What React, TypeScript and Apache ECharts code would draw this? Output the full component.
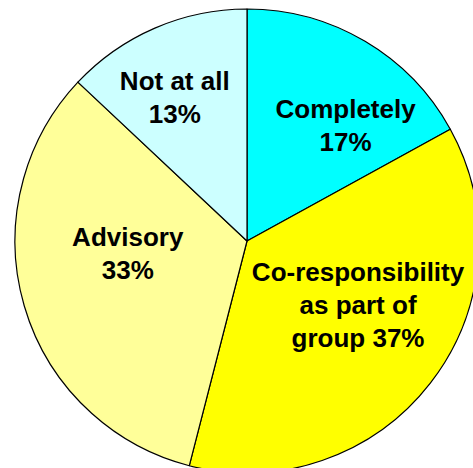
import React, { useEffect, useRef } from "react";
import * as echarts from "echarts";

const categories = ["Completely", "Co-responsibility\nas part of\ngroup", "Advisory", "Not at all"];
const values = [17, 37, 33, 13];
const colors = ["#00FFFF", "#FFFF00", "#FFFF99", "#CCFFFF"];
// label offsets relative to ECharts' default inside position
const labelOffsets = [
  [38, -13],
  [17, -9],
  [-5, -21],
  [-25, -34],
];

export default function App() {
  const ref = useRef<HTMLDivElement>(null);
  useEffect(() => {
    if (!ref.current) return;
    const chart = echarts.init(ref.current, undefined, { renderer: "svg" });
    chart.setOption({
      animation: false,
      backgroundColor: "#FFFFFF",
      series: [
        {
          type: "pie",
          center: [247, 241],
          radius: 232,
          startAngle: 90,
          clockwise: true,
          avoidLabelOverlap: false,
          emphasis: { disabled: true },
          itemStyle: { borderColor: "#000000", borderWidth: 1.2 },
          labelLine: { show: false },
          label: {
            show: true,
            position: "inside",
            color: "#000000",
            fontFamily: "Liberation Sans, Arial, sans-serif",
            fontWeight: "bold",
            fontSize: 26,
            lineHeight: 33,
            align: "center",
            formatter: (p: any) =>
              p.name + (p.name.indexOf("\n") >= 0 ? " " : "\n") + p.value + "%",
          },
          data: categories.map((name, i) => ({
            name,
            value: values[i],
            itemStyle: { color: colors[i] },
            label: { offset: labelOffsets[i] },
          })),
        },
      ],
    });
    return () => chart.dispose();
  }, []);
  return (
    <div
      ref={ref}
      style={{ position: "fixed", left: 0, top: 0, width: 473, height: 468 }}
    />
  );
}
